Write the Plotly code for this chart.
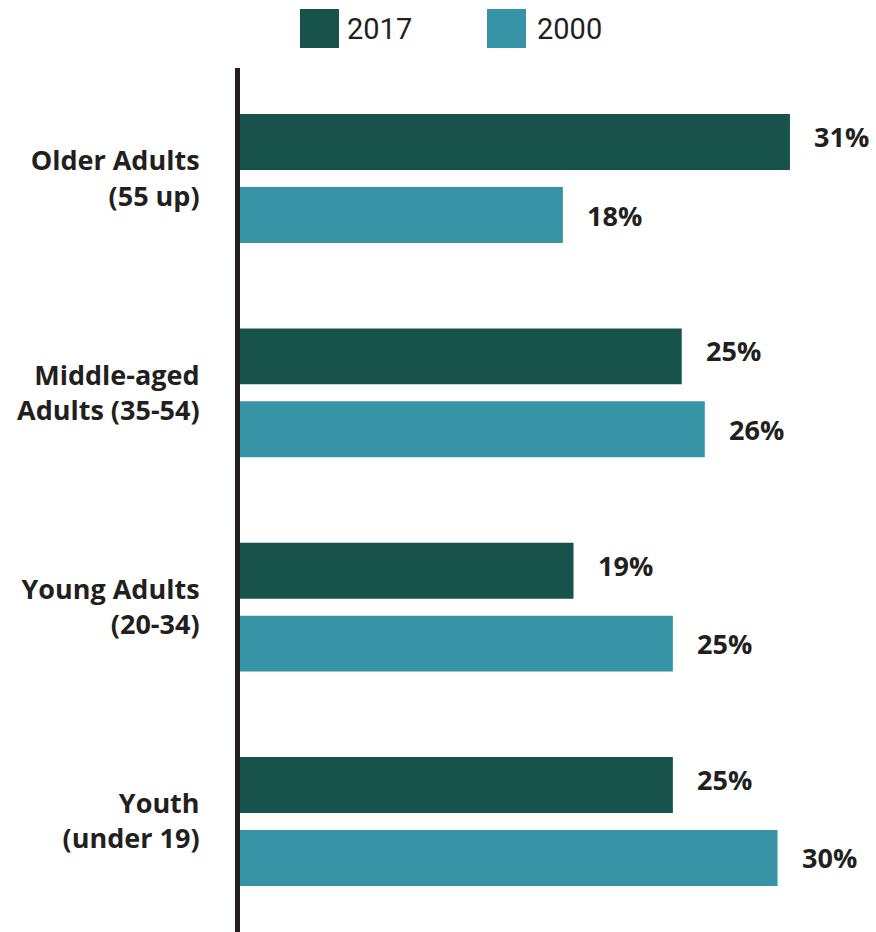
import plotly.graph_objects as go

# ---- data ----
categories = ["Older Adults<br>(55 up)", "Middle-aged<br>Adults (35-54)",
              "Young Adults<br>(20-34)", "Youth<br>(under 19)"]
series_names = ["2017", "2000"]
values_2017 = [31.0, 24.9, 18.8, 24.4]
values_2000 = [18.2, 26.2, 24.4, 30.3]
labels_2017 = ["31%", "25%", "19%", "25%"]
labels_2000 = ["18%", "26%", "25%", "30%"]
colors = ["#17534A", "#3794A6"]

W, H = 876, 932
ML, MR, MT, MB = 240, 0, 68, 0
PX_PER_UNIT = 17.74
xmax = (W - ML - MR) / PX_PER_UNIT
TXT = "#231F20"
FONT = "Open Sans"

fig = go.Figure()
for name, vals, col in [(series_names[0], values_2017, colors[0]),
                        (series_names[1], values_2000, colors[1])]:
    fig.add_trace(go.Bar(y=categories, x=vals, name=name, orientation="h",
                         marker=dict(color=col, line=dict(width=0)),
                         hoverinfo="skip", showlegend=False))

# value labels
annotations = []
n = len(categories)
for i in range(n):
    for k, (vals, labs) in enumerate([(values_2017, labels_2017), (values_2000, labels_2000)]):
        annotations.append(dict(
            x=vals[i], y=categories[i], xref="x", yref="y",
            text=f"<b>{labs[i]}</b>", showarrow=False, xanchor="left",
            yanchor="middle", xshift=22,
            yshift=42 if k == 0 else -36.5,
            font=dict(family=FONT, size=27, color=TXT)))

# manual legend (large square swatches)
def px_x(p):
    return (p - ML) / (W - ML - MR)

def px_y(p):
    return (H - MB - p) / (H - MT - MB)

shapes = []
legend_items = [(series_names[0], colors[0], 300, 345), (series_names[1], colors[1], 487, 535)]
for name, col, sx, tx in legend_items:
    shapes.append(dict(type="rect", xref="paper", yref="paper",
                       x0=px_x(sx), x1=px_x(sx + 39), y0=px_y(48), y1=px_y(9),
                       fillcolor=col, line=dict(width=0)))
    annotations.append(dict(x=px_x(tx), y=px_y(28.5), xref="paper", yref="paper",
                            text=name, showarrow=False, xanchor="left", yanchor="middle",
                            font=dict(family="Roboto", size=29, color=TXT)))

fig.update_layout(
    width=W, height=H,
    margin=dict(l=ML, r=MR, t=MT, b=MB, pad=0),
    paper_bgcolor="white", plot_bgcolor="white",
    barmode="group", bargap=0.319, bargroupgap=0.233,
    showlegend=False,
    xaxis=dict(range=[0, xmax], visible=False, fixedrange=True),
    yaxis=dict(range=[n - 1 + 0.516, -0.516], showline=True, linewidth=5,
               linecolor=TXT, showgrid=False, zeroline=False, ticks="",
               ticklabelstandoff=30, tickfont=dict(family=FONT, size=27, color=TXT),
               tickmode="array", tickvals=categories,
               ticktext=[f"<b>{c}</b>" for c in categories]),
    shapes=shapes, annotations=annotations,
)
fig.write_html("out.html")
